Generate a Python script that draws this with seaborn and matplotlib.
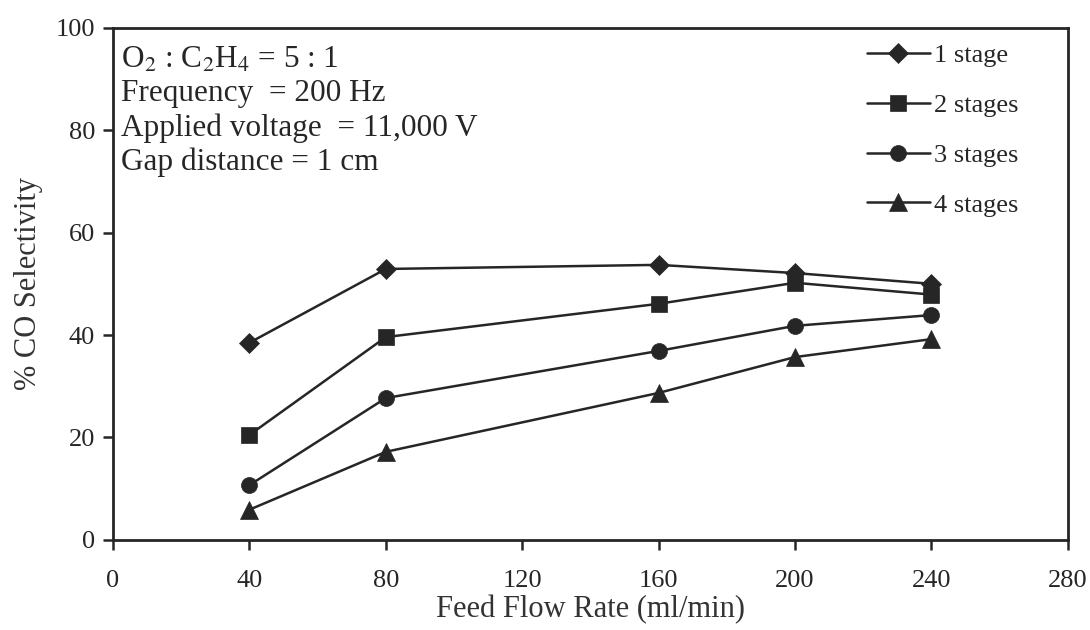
import matplotlib
matplotlib.use("Agg")
import matplotlib.pyplot as plt
import seaborn as sns
import pandas as pd

flow = [40, 80, 160, 200, 240]
stage1 = [38.5, 52.9, 53.7, 52.1, 50.0]
stage2 = [20.5, 39.6, 46.1, 50.2, 47.9]
stage3 = [10.7, 27.7, 36.9, 41.8, 43.9]
stage4 = [5.9, 17.2, 28.7, 35.7, 39.2]
series_names = ["1 stage", "2 stages", "3 stages", "4 stages"]
x_ticks = [0, 40, 80, 120, 160, 200, 240, 280]
y_ticks = [0, 20, 40, 60, 80, 100]

sns.set_theme(style="ticks")
plt.rcParams['font.family'] = ['Liberation Serif', 'DejaVu Serif']
plt.rcParams['mathtext.fontset'] = 'stix'

fig = plt.figure(figsize=(10.9, 6.3), dpi=100)
ax = fig.add_axes([0.1037, 0.143, 0.876, 0.813])

ink = "#262626"
markers = ["D", "s", "o", "^"]
msizes = [10, 11, 11.5, 12.5]
for name, vals, m, ms in zip(series_names, [stage1, stage2, stage3, stage4], markers, msizes):
    df = pd.DataFrame({"flow": flow, "sel": vals})
    sns.lineplot(data=df, x="flow", y="sel", ax=ax, color=ink, linewidth=1.8,
                 marker=m, markersize=ms, markeredgecolor=ink, markeredgewidth=0.5, label=name)

ax.set_xlim(0, 280)
ax.set_ylim(0, 100)
ax.set_xticks(x_ticks)
ax.set_yticks(y_ticks)
ax.tick_params(direction="out", length=7, width=1.8, labelsize=19, colors=ink)
ax.tick_params(axis="x", pad=15)
ax.tick_params(axis="y", pad=6)
for sp in ax.spines.values():
    sp.set_linewidth(2.0)
    sp.set_color(ink)
    sp.set_visible(True)
ax.set_xlabel("Feed Flow Rate (ml/min)", fontsize=22, color="#333333", labelpad=2)
ax.set_ylabel("% CO Selectivity", fontsize=22, color="#333333", labelpad=9)

ax.text(0.008, 0.966,
        "O$_2$ : C$_2$H$_4$ = 5 : 1\nFrequency  = 200 Hz\nApplied voltage  = 11,000 V\nGap distance = 1 cm",
        transform=ax.transAxes, ha="left", va="top", fontsize=22.5, color=ink,
        linespacing=1.22)

leg = ax.legend(loc="upper right", bbox_to_anchor=(0.965, 1.0), frameon=False, fontsize=19,
                handlelength=2.4, handletextpad=0.15, labelspacing=1.0, borderaxespad=0.2)
for t in leg.get_texts():
    t.set_color(ink)

fig.savefig("out.png", dpi=100)
